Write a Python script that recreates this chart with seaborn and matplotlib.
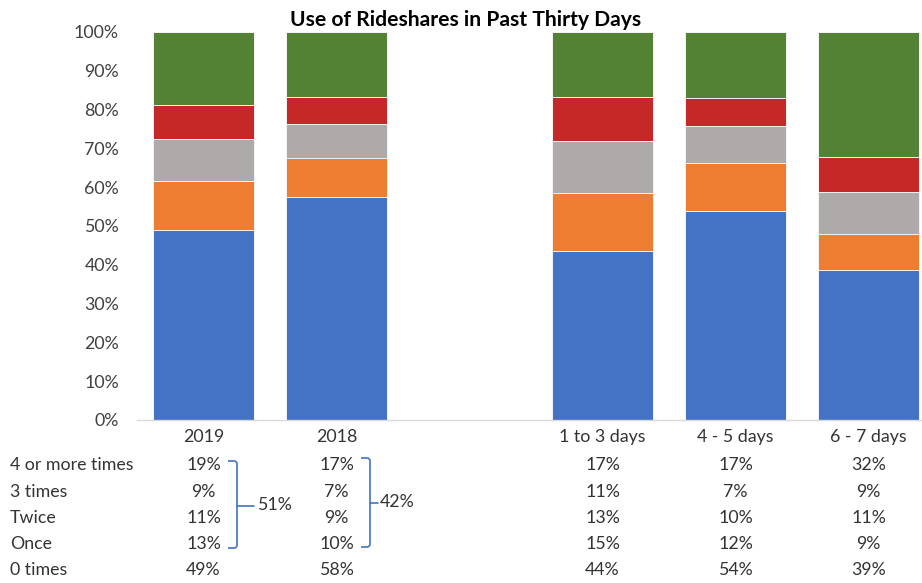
import numpy as np
import pandas as pd
import matplotlib
matplotlib.use("Agg")
import matplotlib.pyplot as plt
import matplotlib.transforms as mtransforms
from matplotlib.path import Path
from matplotlib.patches import PathPatch
import seaborn as sns

# ---------------- data ----------------
categories = ["2019", "2018", "1 to 3 days", "4 - 5 days", "6 - 7 days"]
gap_label = " "
zero_times = [48.9, 57.6, 43.6, 53.9, 38.7]
once = [12.6, 9.9, 15.0, 12.3, 9.2]
twice = [10.9, 8.8, 13.3, 9.7, 10.9]
three_times = [8.7, 6.9, 11.3, 7.2, 8.9]
four_plus = [18.9, 16.8, 16.8, 16.9, 32.3]
series_names = ["0 times", "Once", "Twice", "3 times", "4 or more times"]
series_colors = ["#4472C4", "#ED7D31", "#AEAAAA", "#C62828", "#548235"]
bracket_labels = ["51%", "42%"]
ytick_values = [0, 10, 20, 30, 40, 50, 60, 70, 80, 90, 100]
title = "Use of Rideshares in Past Thirty Days"

series = [zero_times, once, twice, three_times, four_plus]
order = categories[:2] + [gap_label] + categories[2:]

# ---------------- figure ----------------
W, H = 922, 583
FS = 12.8
TXT = "#333333"
sns.set_theme(style="white")
plt.rcParams["font.family"] = ["Lato", "DejaVu Sans"]
fig = plt.figure(figsize=(W / 100, H / 100), dpi=100)
ax = fig.add_axes([137 / W, 1 - 420 / H, 798 / W, 388 / H])

df = pd.DataFrame({"category": categories})
cum = np.zeros(len(categories))
cums = []
for s in series:
    cum = cum + np.array(s)
    cums.append(cum.copy())
# draw from the top of the stack down so lower segments overlay
for i in reversed(range(len(series))):
    df["value"] = cums[i]
    sns.barplot(data=df, x="category", y="value", order=order,
                color=series_colors[i], saturation=1, width=0.76,
                edgecolor="#F4F4F4", linewidth=0.7, ax=ax, errorbar=None)

ax.set_ylim(0, 100)
ax.set_xlim(-0.5, len(order) - 0.5)
ax.set_yticks(ytick_values)
ax.set_yticklabels([f"{v}%" for v in ytick_values])
ax.set_xlabel("")
ax.set_ylabel("")
for sp in ["top", "right", "left"]:
    ax.spines[sp].set_visible(False)
ax.spines["bottom"].set_color("#D9D9D9")
ax.spines["bottom"].set_linewidth(1.0)
ax.tick_params(axis="y", length=0, pad=13, labelsize=FS, labelcolor="#404040")
ax.tick_params(axis="x", length=0, pad=6.5, labelsize=FS, labelcolor=TXT)
ax.grid(False)

fig.text(466 / W, 1 - 20 / H, title, ha="center", va="center",
         fontsize=15.2, fontweight="bold", color="black")

# ---------------- data table below ----------------
row_y_px = [465, 492, 518, 544, 570]
trans = mtransforms.blended_transform_factory(ax.transData, fig.transFigure)
for r, idx in enumerate(reversed(range(len(series)))):
    y = 1 - row_y_px[r] / H
    fig.text(10 / W, y, series_names[idx], ha="left", va="center",
             fontsize=FS, color=TXT)
    for c, cat in enumerate(categories):
        xpos = order.index(cat)
        ax.text(xpos, y, f"{round(series[idx][c]):.0f}%", transform=trans,
                ha="center", va="center", fontsize=FS, color=TXT,
                clip_on=False)

# ---------------- brackets ----------------
def bracket(x0, x1, xt, ytop, ybot, ymid, label, xl):
    r = 3
    def P(x, y):
        return (x / W, 1 - y / H)
    verts = [P(x0, ytop), P(x1 - r, ytop), P(x1, ytop), P(x1, ytop + r),
             P(x1, ybot - r), P(x1, ybot), P(x1 - r, ybot), P(x0, ybot)]
    codes = [Path.MOVETO, Path.LINETO, Path.CURVE3, Path.CURVE3,
             Path.LINETO, Path.CURVE3, Path.CURVE3, Path.LINETO]
    fig.patches.append(PathPatch(Path(verts, codes), fill=False,
                                 edgecolor="#4472C4", linewidth=1.2,
                                 transform=fig.transFigure))
    fig.lines.append(plt.Line2D([x1 / W, xt / W], [1 - ymid / H, 1 - ymid / H],
                                color="#4472C4", linewidth=1.2,
                                transform=fig.transFigure))
    fig.text(xl / W, 1 - ymid / H + 1 / H, label, ha="left", va="center",
             fontsize=FS, color=TXT)

bracket(228, 237, 254, 461, 548, 506, bracket_labels[0], 257)
bracket(361, 370, 378, 458, 547, 503, bracket_labels[1], 380)

fig.savefig("out.png", dpi=100)
